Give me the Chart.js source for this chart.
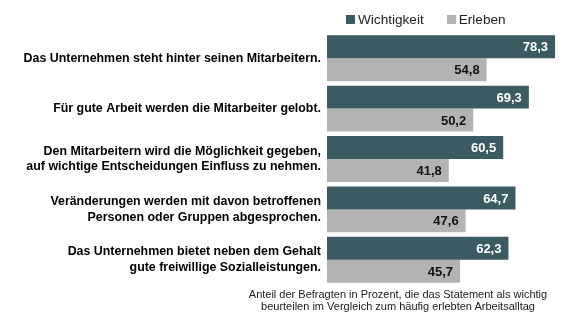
<!DOCTYPE html>
<html>
<head>
<meta charset="utf-8">
<script src="https://cdn.jsdelivr.net/npm/chart.js@4/dist/chart.umd.min.js"></script>
<style>
  html, body { margin: 0; padding: 0; background: #fff; }
  #wrap { position: relative; width: 568px; height: 329px; font-family: 'Liberation Sans', Arial, sans-serif; }
  #legende { position: absolute; left: 346px; top: 12px; font-size: 13.6px; color: #222; white-space: nowrap; }
  #legende span.box { display: inline-block; width: 9px; height: 9px; margin-right: 3px; vertical-align: 0px; }
  #legende span.item { margin-right: 23px; }
  #fussnote { position: absolute; left: 238px; width: 320px; top: 288px; font-size: 11px; line-height: 12px; text-align: center; color: #1a1a1a; }
</style>
</head>
<body>
<div id="wrap">
  <canvas id="grafico" width="568" height="329"></canvas>
  <div id="legende"></div>
  <div id="fussnote">Anteil der Befragten in Prozent, die das Statement als wichtig<br>beurteilen im Vergleich zum häufig erlebten Arbeitsalltag</div>
</div>
<script>
const kategorien = [
  ["Das Unternehmen steht hinter seinen Mitarbeitern."],
  ["Für gute Arbeit werden die Mitarbeiter gelobt."],
  ["Den Mitarbeitern wird die Möglichkeit gegeben,", "auf wichtige Entscheidungen Einfluss zu nehmen."],
  ["Veränderungen werden mit davon betroffenen", "Personen oder Gruppen abgesprochen."],
  ["Das Unternehmen bietet neben dem Gehalt", "gute freiwillige Sozialleistungen."]
];
const wichtigkeit = [78.3, 69.3, 60.5, 64.7, 62.3];
const erleben = [54.8, 50.2, 41.8, 47.6, 45.7];

const serien = [
  { label: "Wichtigkeit", data: wichtigkeit, farbe: "#3b5a62", text: "#ffffff" },
  { label: "Erleben", data: erleben, farbe: "#b3b3b3", text: "#111111" }
];

// Legende als HTML oben rechts
document.getElementById('legende').innerHTML = serien.map(s =>
  `<span class="item"><span class="box" style="background:${s.farbe}"></span>${s.label}</span>`
).join('');

// Werte innen am Balkenende
const wertLabels = {
  id: 'wertLabels',
  afterDatasetsDraw(chart) {
    const ctx = chart.ctx;
    ctx.save();
    ctx.font = "bold 13px 'Liberation Sans', Arial, sans-serif";
    ctx.textAlign = 'right';
    ctx.textBaseline = 'middle';
    chart.data.datasets.forEach((ds, i) => {
      chart.getDatasetMeta(i).data.forEach((bar, j) => {
        ctx.fillStyle = serien[i].text;
        ctx.fillText(ds.data[j].toFixed(1).replace('.', ','), bar.x - 7, bar.y + 1);
      });
    });
    ctx.restore();
  }
};

const ctx = document.getElementById('grafico').getContext('2d');
const grafico = new Chart(ctx, {
  type: 'bar',
  data: {
    labels: kategorien,
    datasets: serien.map(s => ({
      label: s.label,
      data: s.data,
      backgroundColor: s.farbe,
      borderWidth: 0,
      categoryPercentage: 0.91,
      barPercentage: 1.0
    }))
  },
  options: {
    indexAxis: 'y',
    responsive: false,
    animation: false,
    layout: { padding: { top: 33, bottom: 44, left: 0, right: 8 } },
    plugins: {
      legend: { display: false },
      tooltip: { enabled: false }
    },
    scales: {
      x: { display: false, min: 0, max: 80 },
      y: {
        grid: { display: false, drawTicks: false, tickLength: 0 },
        border: { display: false },
        afterFit(scale) { scale.width = 327; },
        ticks: {
          color: '#000',
          padding: 6,
          font: { family: "'Liberation Sans', Arial, sans-serif", size: 12.4, weight: 'bold', lineHeight: 1.25 }
        }
      }
    }
  },
  plugins: [wertLabels]
});
</script>
</body>
</html>
